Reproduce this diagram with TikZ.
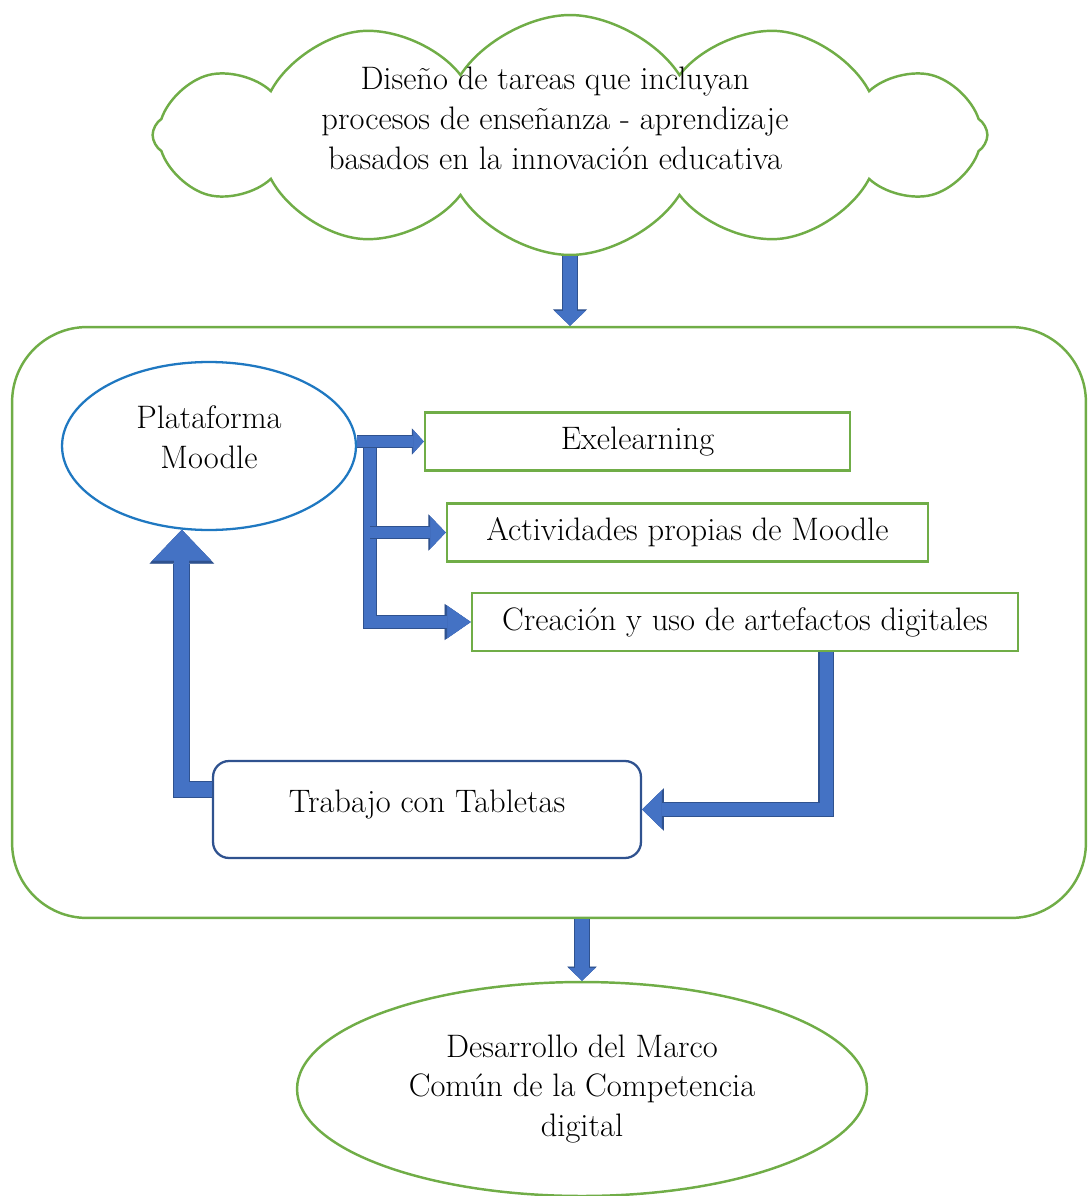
\documentclass[tikz,border=0pt]{standalone}
\usepackage{tikz}
\usetikzlibrary{shapes.geometric, shapes.symbols, arrows.meta, positioning, calc}
\definecolor{boxgreen}{HTML}{70AD47}
\definecolor{moodleblue}{HTML}{1F78C1}
\definecolor{tabletblue}{HTML}{2F528F}
\definecolor{flowblue}{HTML}{4472C4}
\definecolor{flowedge}{HTML}{2F528F}

\begin{document}
\begin{tikzpicture}[
    x=0.02cm, y=-0.02cm,
    every node/.style={font=\fontsize{18.5}{22.7}\selectfont, align=center},
    cloudbox/.style={cloud, cloud puffs=12, cloud puff arc=115, cloud ignores aspect, draw=boxgreen, line width=1.4pt, minimum width=16.7cm, minimum height=4.8cm},
    panel/.style={draw=boxgreen, line width=1.4pt, rounded corners=1.5cm, minimum width=21.48cm, minimum height=11.82cm},
    tool/.style={draw=boxgreen, line width=1.4pt, minimum height=1.16cm},
    flow/.style n args={3}{draw=flowblue, line width=#1, -{Triangle[length=#2, width=#3, line width=0.4pt]},
        preaction={draw=flowedge, line width=#1+1.2pt, -{Triangle[length=#2, width=#3, line width=0.4pt, scale=1.1]}}}
]
\useasboundingbox (0,0) rectangle (1088,1196);

% Top cloud
\node[cloudbox] (tareas) at (570,135) {};
\node (tareastext) at (555,118) {Diseño de tareas que incluyan\\procesos de enseñanza - aprendizaje\\basados en la innovación educativa};

% Working area
\node[panel] (marco) at (549,622.5) {};
\node[ellipse, draw=moodleblue, line width=1.3pt, minimum width=5.88cm, minimum height=3.36cm] (moodle) at (209,446) {Plataforma\\Moodle\\[-0.45cm]};
\node[tool, minimum width=8.5cm] (exe) at (637.5,441.5) {Exelearning};
\node[tool, minimum width=9.62cm] (act) at (687.5,532.5) {Actividades propias de Moodle};
\node[tool, minimum width=10.92cm] (crea) at (745,622) {Creación y uso de artefactos digitales};
\node[draw=tabletblue, line width=1.3pt, rounded corners=0.32cm, minimum width=8.56cm, minimum height=1.94cm] (tab) at (427,809.5) {Trabajo con Tabletas\\[-0.45cm]};

% Result
\node[ellipse, draw=boxgreen, line width=1.4pt, minimum width=11.4cm, minimum height=4.28cm] (marcocomun) at (582,1089) {Desarrollo del Marco\\Común de la Competencia\\digital};

% Arrows between blocks
\draw[flow={7.9pt}{8.5pt}{17.6pt}] (tareas.south) -- (tareas.south |- marco.north);
\draw[flow={7.9pt}{7.4pt}{15.3pt}] (marco.south -| marcocomun.north) -- (marcocomun.north);

% Moodle branches
\coordinate (fork) at ($(moodle.east |- exe.west)+(13,0)$);
\draw[flow={6.8pt}{13.6pt}{18.7pt}] (fork) |- (crea.west);
\draw[flow={5.7pt}{9pt}{18.7pt}] (fork |- act.west) -- (act.west);
\draw[flow={6.2pt}{6.2pt}{13.6pt}] (moodle.east |- exe.west) -- (exe.west);

% Loop back
\draw[flow={7.4pt}{11.3pt}{22pt}] ($(crea.south)+(81,0)$) |- (tab.east);
\draw[flow={8.5pt}{17.6pt}{33.5pt}] ($(tab.west)+(0,-20)$) -| (moodle.252);

\end{tikzpicture}
\end{document}
